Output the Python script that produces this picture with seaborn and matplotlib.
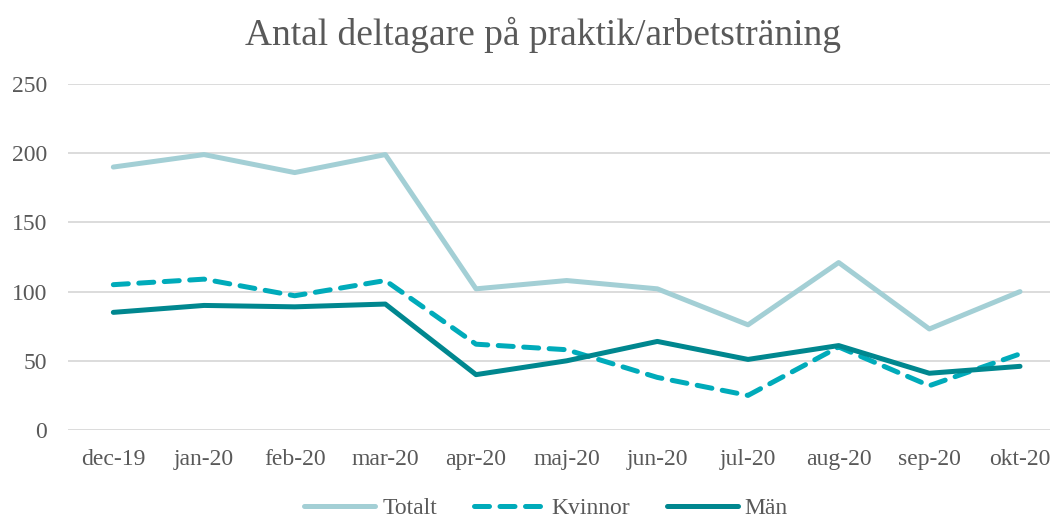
import matplotlib
matplotlib.use("Agg")
import matplotlib.pyplot as plt
import seaborn as sns
import pandas as pd

months = ["dec-19", "jan-20", "feb-20", "mar-20", "apr-20", "maj-20",
          "jun-20", "jul-20", "aug-20", "sep-20", "okt-20"]
totalt = [190, 199, 186, 199, 102, 108, 102, 76, 121, 73, 100]
kvinnor = [105, 109, 97, 108, 62, 58, 38, 25, 60, 32, 55]
man = [85, 90, 89, 91, 40, 50, 64, 51, 61, 41, 46]
series_names = ["Totalt", "Kvinnor", "Män"]
colors = ["#A3CFD5", "#00ABBA", "#00878F"]

rows = []
for name, vals in zip(series_names, [totalt, kvinnor, man]):
    for i, (m, v) in enumerate(zip(months, vals)):
        rows.append({"idx": i, "month": m, "value": v, "serie": name})
df = pd.DataFrame(rows)

sns.set_theme(style="white")
plt.rcParams["font.family"] = ["Liberation Serif", "DejaVu Serif"]

fig = plt.figure(figsize=(10.52, 5.17), dpi=100)
ax = fig.add_axes([68 / 1052, 1 - 430 / 517, (1050 - 68) / 1052, (430 - 84) / 517])

sns.lineplot(data=df, x="idx", y="value", hue="serie", style="serie",
             hue_order=series_names, style_order=series_names,
             palette=colors,
             dashes={"Totalt": "", "Kvinnor": (3.0, 2.1), "Män": ""},
             linewidth=3.6, ax=ax, legend=True)
for ln in ax.get_lines():
    ln.set_solid_capstyle("round")
    ln.set_dash_capstyle("round")
    ln.set_solid_joinstyle("round")

ax.set_ylim(0, 250)
ax.set_yticks([0, 50, 100, 150, 200, 250])
ax.set_xlim(-0.5, (1050 - 113) / 90.7)
ax.set_xticks(range(len(months)))
ax.set_xticklabels(months)
ax.set_xlabel("")
ax.set_ylabel("")
ax.yaxis.grid(True, color="#D9D9D9", linewidth=1.3)
ax.set_axisbelow(True)
for s in ax.spines.values():
    s.set_visible(False)
ax.tick_params(axis="both", length=0, labelsize=17, colors="#595959")
ax.tick_params(axis="x", pad=14)
ax.tick_params(axis="y", pad=15)

fig.text(543 / 1052, 1 - 35 / 517, "Antal deltagare på praktik/arbetsträning",
         ha="center", va="center", fontsize=27, color="#595959")

handles, labels = ax.get_legend_handles_labels()
for h in handles:
    h.set_linewidth(3.6)
    h.set_solid_capstyle("round")
    h.set_dash_capstyle("round")
ax.legend(handles, labels, loc="center", bbox_to_anchor=(546 / 1052, 1 - 508 / 517),
          bbox_transform=fig.transFigure, ncol=3, frameon=False,
          prop={"family": "Liberation Serif", "size": 17},
          handlelength=3.0, handletextpad=0.3, columnspacing=1.55,
          labelcolor="#595959")

fig.savefig("out.png", dpi=100)
